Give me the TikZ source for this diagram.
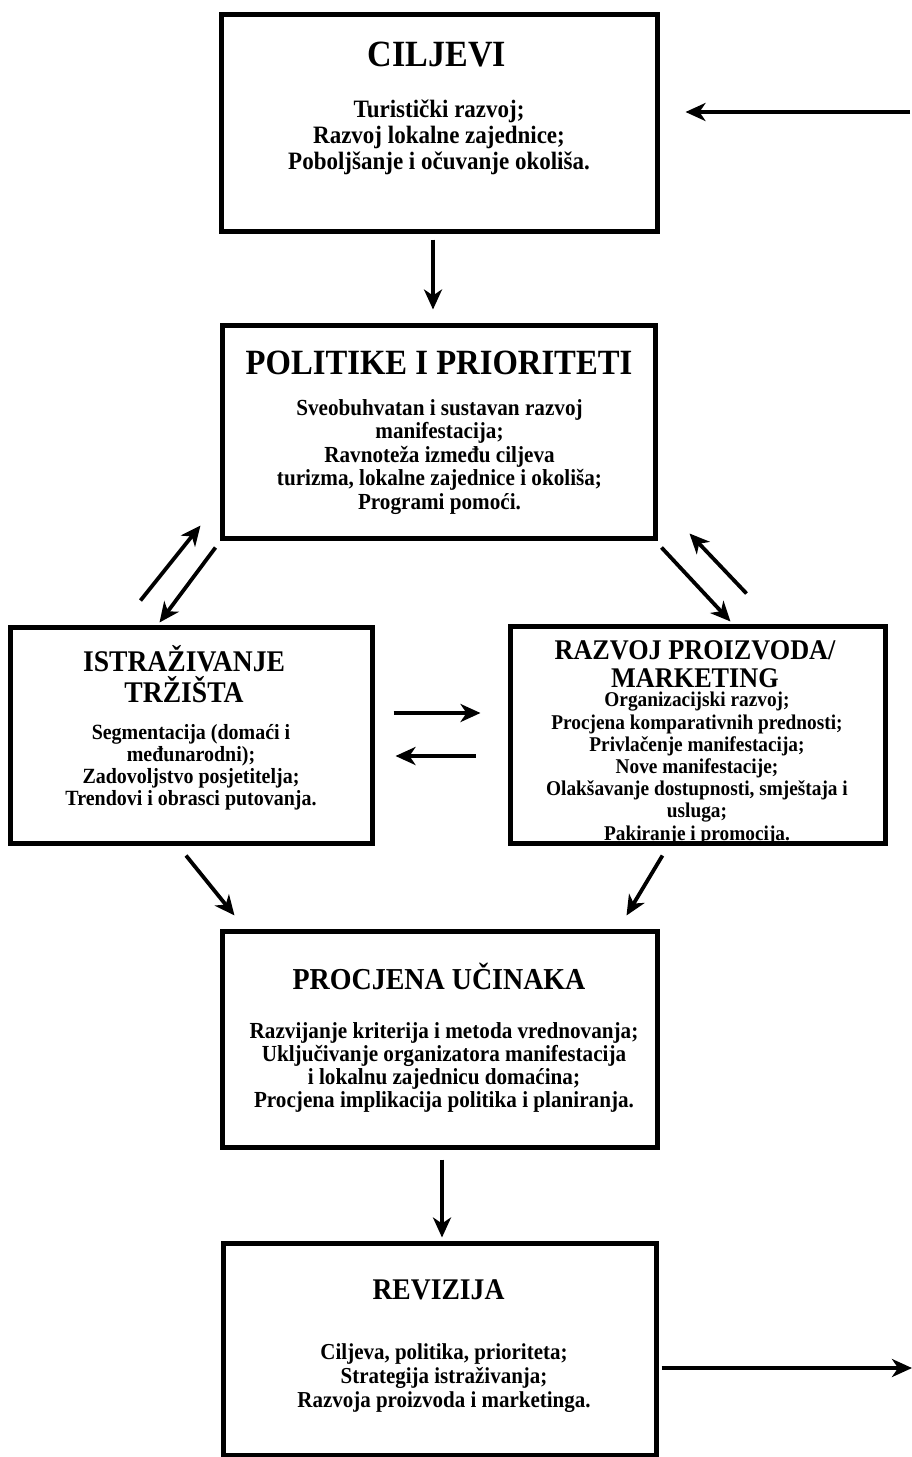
\documentclass[tikz,border=0pt]{standalone}
\usepackage{fontspec}
\setmainfont[FakeStretch=0.92]{Liberation Serif}
\usetikzlibrary{arrows.meta,calc}
\begin{document}
\begin{tikzpicture}[x=1pt,y=-1pt,
  box/.style={draw, line width=5pt, inner sep=0pt},
  ttl/.style={inner sep=0pt, align=center, font=\bfseries\fontsize{#1}{#1}\selectfont},
  ttlb/.style n args={2}{inner sep=0pt, align=center, font=\bfseries\fontsize{#1}{#2}\selectfont},
  body/.style n args={2}{inner sep=0pt, align=center, font=\bfseries\fontsize{#1}{#2}\selectfont},
  arr/.style={line width=3.8pt, -{Stealth[length=20pt,width=18pt,inset=6pt]}}]
\useasboundingbox (0,0) rectangle (911,1457);
\fill[white] (0,0) rectangle (911,1457);

% boxes
\node[box, minimum width=436pt, minimum height=217pt] (cil) at (439,122.5) {};
\node[box, minimum width=433pt, minimum height=213pt] (pol) at (438.5,431.5) {};
\node[box, minimum width=362pt, minimum height=216pt] (ist) at (191,735) {};
\node[box, minimum width=375pt, minimum height=217pt] (raz) at (697.5,734.5) {};
\node[box, minimum width=435pt, minimum height=216pt] (pro) at (439.5,1039) {};
\node[box, minimum width=433pt, minimum height=212pt] (rev) at (439.5,1349) {};

% texts
\node[ttl=37] (cilT) at (437,55) {CILJEVI};
\node[body={25}{26}] (cilB) at (439,137) {Turistički razvoj;\\Razvoj lokalne zajednice;\\Poboljšanje i očuvanje okoliša.};

\node[ttl=35.5] (polT) at (439,363) {POLITIKE I PRIORITETI};
\node[body={23}{23.5}] (polB) at (439.5,457) {Sveobuhvatan i sustavan razvoj\\manifestacija;\\Ravnoteža između ciljeva\\turizma, lokalne zajednice i okoliša;\\Programi pomoći.};

\node[ttlb={30}{31}] (istT) at (184,674) {ISTRAŽIVANJE\\TRŽIŠTA};
\node[body={21.7}{22}] (istB) at (191,767) {Segmentacija (domaći i\\međunarodni);\\Zadovoljstvo posjetitelja;\\Trendovi i obrasci putovanja.};

\node[ttl=28.5, anchor=base] (razT1) at (695,659.5) {RAZVOJ PROIZVODA/};
\node[ttl=28.5, anchor=base] (razT2) at (695,687) {MARKETING};
\node[body={21}{22.2}] (razB) at (697,768.5) {Organizacijski razvoj;\\Procjena komparativnih prednosti;\\Privlačenje manifestacija;\\Nove manifestacije;\\Olakšavanje dostupnosti, smještaja i\\usluga;\\Pakiranje i promocija.};

\node[ttl=30.4] (proT) at (439,976) {PROCJENA UČINAKA};
\node[body={23}{23}] (proB) at (444,1067.5) {Razvijanje kriterija i metoda vrednovanja;\\Uključivanje organizatora manifestacija\\i lokalnu zajednicu domaćina;\\Procjena implikacija politika i planiranja.};

\node[ttl=30] (revT) at (438.5,1290) {REVIZIJA};
\node[body={22.8}{24}] (revB) at (444,1378) {Ciljeva, politika, prioriteta;\\Strategija istraživanja;\\Razvoja proizvoda i marketinga.};

% free ends
\coordinate (inR) at (910,112);
\coordinate (outR) at (912,1368);

% connectors
\draw[arr] (inR) -- ($(cil.east)+(26,-10.5)$);
\draw[arr] ($(cil.south)+(-6,6)$) -- ($(pol.north)+(-5.5,-13)$);
\draw[arr] ($(pol.south west)+(-4,7)$) -- ($(ist.north west)+(152,-2)$);
\draw[arr] ($(ist.north west)+(133,-24)$) -- ($(pol.south west)+(-19,-15)$);
\draw[arr] ($(pol.south east)+(4,7)$) -- ($(raz.north west)+(223,-2)$);
\draw[arr] ($(raz.north west)+(239,-30)$) -- ($(pol.south east)+(32,-7)$);
\draw[arr] ($(ist.east)+(19,-22)$) -- ($(raz.west)+(-27,-21.5)$);
\draw[arr] ($(raz.west)+(-32,21.5)$) -- ($(ist.east)+(21,21)$);
\draw[arr] ($(ist.south)+(-5,10)$) -- ($(pro.north west)+(15,-13)$);
\draw[arr] ($(raz.south west)+(155,10)$) -- ($(pro.north east)+(-33,-13)$);
\draw[arr] ($(pro.south)+(2.5,10)$) -- ($(rev.north)+(2.5,-3)$);
\draw[arr] ($(rev.east)+(3,19)$) -- (outR);
\end{tikzpicture}
\end{document}
